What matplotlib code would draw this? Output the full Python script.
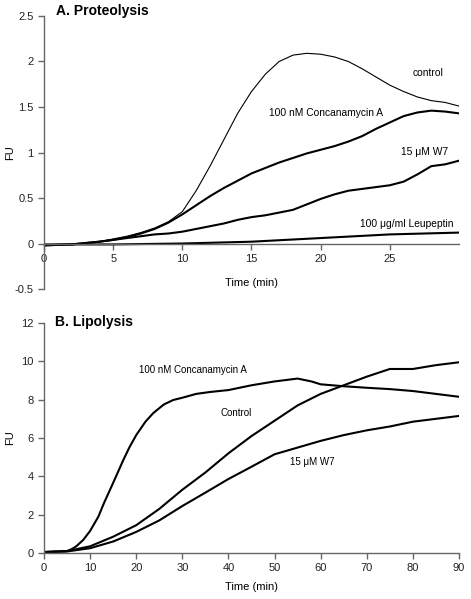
import matplotlib
matplotlib.use("Agg")
import matplotlib.pyplot as plt

plt.rcParams['font.family'] = ['Liberation Sans', 'DejaVu Sans']

# A. Proteolysis (time in min, FU)
t_a = [0, 2, 4, 5, 6, 7, 8, 9, 10, 11, 12, 13, 14, 15, 16, 17, 18, 19, 20,
       21, 22, 23, 24, 25, 26, 27, 28, 29, 30]
control_a = [-0.02, -0.01, 0.02, 0.05, 0.08, 0.12, 0.17, 0.24, 0.35, 0.58, 0.85,
             1.14, 1.43, 1.67, 1.86, 2.0, 2.07, 2.09, 2.08, 2.05, 2.0, 1.92,
             1.83, 1.74, 1.67, 1.61, 1.57, 1.55, 1.51]
conc_a = [-0.02, -0.01, 0.02, 0.04, 0.07, 0.11, 0.16, 0.23, 0.32, 0.42, 0.52,
          0.61, 0.69, 0.77, 0.83, 0.89, 0.94, 0.99, 1.03, 1.07, 1.12, 1.18,
          1.26, 1.33, 1.40, 1.44, 1.46, 1.45, 1.43]
w7_a = [-0.02, -0.01, 0.02, 0.04, 0.06, 0.08, 0.1, 0.11, 0.13, 0.16, 0.19,
        0.22, 0.26, 0.29, 0.31, 0.34, 0.37, 0.43, 0.49, 0.54, 0.58, 0.60,
        0.62, 0.64, 0.68, 0.76, 0.85, 0.87, 0.91]
t_leu = [0, 5, 10, 15, 20, 25, 30]
leu_a = [-0.01, -0.01, 0.0, 0.02, 0.06, 0.1, 0.12]

# B. Lipolysis
t_b = [0, 5, 6, 7, 8.5, 10, 11.8, 13, 14.7, 16, 17.2, 18.5, 20, 22, 23.7, 26,
       28, 30, 33, 36, 40, 45, 50, 55, 58, 60, 65, 70, 75, 80, 85, 90]
conc_b = [0.05, 0.1, 0.2, 0.35, 0.68, 1.15, 1.9, 2.6, 3.5, 4.2, 4.85, 5.5,
          6.15, 6.85, 7.3, 7.75, 7.98, 8.1, 8.3, 8.4, 8.5, 8.75, 8.95, 9.1,
          8.95, 8.8, 8.7, 8.62, 8.55, 8.45, 8.3, 8.15]
t_b2 = [0, 5, 10, 15, 20, 25, 30, 35, 40, 45, 50, 55, 60, 65, 70, 75, 80, 85, 90]
control_b = [0.05, 0.1, 0.35, 0.85, 1.45, 2.3, 3.3, 4.2, 5.2, 6.1, 6.9, 7.7,
             8.3, 8.75, 9.2, 9.6, 9.6, 9.8, 9.95]
w7_b = [0.05, 0.08, 0.25, 0.6, 1.1, 1.7, 2.45, 3.15, 3.86, 4.5, 5.15, 5.5,
        5.85, 6.15, 6.4, 6.6, 6.85, 7.0, 7.15]

axis_col = '#666666'

fig = plt.figure(figsize=(4.71, 5.99), dpi=100)
ax1 = fig.add_axes([0.0934, 0.5175, 0.8811, 0.4558])
ax2 = fig.add_axes([0.0934, 0.0768, 0.8811, 0.3840])

def style(ax):
    for s in ['top', 'right']:
        ax.spines[s].set_visible(False)
    for s in ['left', 'bottom']:
        ax.spines[s].set_color(axis_col)
        ax.spines[s].set_linewidth(1.0)
    ax.tick_params(colors=axis_col, labelcolor='#222222', labelsize=8,
                   length=4, width=1.0, direction='out')
    ax.set_ylabel('FU', fontsize=8)
    ax.yaxis.set_label_coords(-0.07, 0.5)

# top panel
ax1.plot(t_a, control_a, color='black', lw=0.8)
ax1.plot(t_a, conc_a, color='black', lw=1.5)
ax1.plot(t_a, w7_a, color='black', lw=1.5)
ax1.plot(t_leu, leu_a, color='black', lw=1.5)
ax1.set_xlim(0, 30)
ax1.set_ylim(-0.5, 2.5)
ax1.set_xticks([0, 5, 10, 15, 20, 25])
ax1.set_yticks([-0.5, 0, 0.5, 1, 1.5, 2, 2.5])
ax1.set_yticklabels(['-0.5', '0', '0.5', '1', '1.5', '2', '2.5'])
style(ax1)
ax1.spines['bottom'].set_position(('data', 0))
ax1.set_xlabel('Time (min)', fontsize=8)
ax1.xaxis.set_label_coords(0.5, 0.04)
ax1.text(0.85, 2.55, 'A. Proteolysis', fontsize=10, fontweight='bold', va='center')
ax1.text(27.8, 1.87, 'control', fontsize=7.4, ha='center', va='center')
ax1.text(20.4, 1.43, '100 nM Concanamycin A', fontsize=7.4, ha='center', va='center')
ax1.text(27.5, 1.01, '15 \u03bcM W7', fontsize=7.4, ha='center', va='center')
ax1.text(26.2, 0.21, '100 \u03bcg/ml Leupeptin', fontsize=7.4, ha='center', va='center')

# bottom panel
ax2.plot(t_b, conc_b, color='black', lw=1.5)
ax2.plot(t_b2, control_b, color='black', lw=1.5)
ax2.plot(t_b2, w7_b, color='black', lw=1.5)
ax2.set_xlim(0, 90)
ax2.set_ylim(0, 12)
ax2.set_xticks(range(0, 91, 10))
ax2.set_yticks(range(0, 13, 2))
style(ax2)
ax2.set_xlabel('Time (min)', fontsize=8, labelpad=6)
ax2.text(2.4, 12.07, 'B. Lipolysis', fontsize=10, fontweight='bold', va='center')
ax2.text(32.2, 9.55, '100 nM Concanamycin A', fontsize=7, ha='center', va='center')
ax2.text(41.6, 7.29, 'Control', fontsize=7, ha='center', va='center')
ax2.text(58.1, 4.77, '15 \u03bcM W7', fontsize=7, ha='center', va='center')

fig.savefig('out.png', dpi=100)
